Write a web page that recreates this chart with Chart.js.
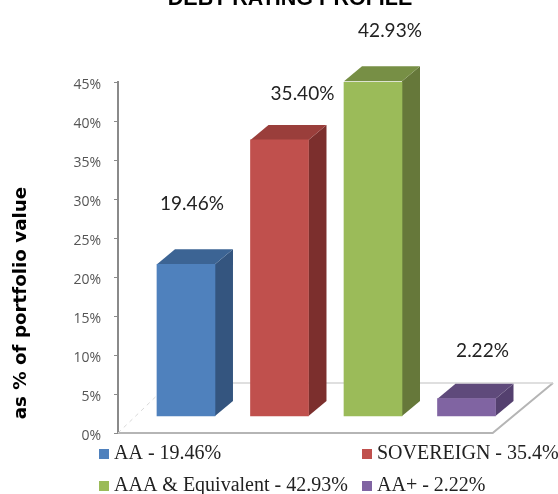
<!DOCTYPE html>
<html><head><meta charset="utf-8">
<script src="https://cdn.jsdelivr.net/npm/chart.js@4"></script>
<style>html,body{margin:0;padding:0;background:#fff;overflow:hidden}
#w{position:relative;width:558px;height:494px}canvas{display:block;filter:blur(.45px)}</style>
</head><body><div id="w"><canvas id="c" width="558" height="494"></canvas></div>
<script>
const titleText = "DEBT RATING PROFILE";
const axisTitle = "as % of portfolio value";
const categories = ["AA", "SOVEREIGN", "AAA & Equivalent", "AA+"];
const values = [19.46, 35.40, 42.93, 2.22];
const valueLabels = ["19.46%", "35.40%", "42.93%", "2.22%"];
const legendLabels = ["AA - 19.46%", "SOVEREIGN - 35.4%", "AAA & Equivalent - 42.93%", "AA+ - 2.22%"];
const yTicks = [0, 5, 10, 15, 20, 25, 30, 35, 40, 45];

// styling and layout only
const floorLift = 2.18;           // the 3D box stands on a floor drawn above the axis origin
const front = ["#4F81BD", "#C0504D", "#9BBB59", "#8064A2"];
const side  = ["#34557F", "#7C2F2D", "#66783A", "#54406F"];
const top3d = ["#3C6494", "#9A3E3B", "#778F45", "#5F4A7B"];
const depth = {dx: 18, dy: -15};
const labelOffsets = [[6, -60], [23, -46], [17, -50], [16, -48]];
const legendPos = [[99, 454], [362, 454], [99, 486], [362, 486]];

const scene = {
  id: "scene",
  beforeDatasetsDraw(ch) {
    const g = ch.ctx, xs = ch.scales.x, ys = ch.scales.y;
    const y0 = ys.getPixelForValue(0), left = ch.chartArea.left;
    const fr = xs.getPixelForValue(3.28), bx = ch.chartArea.right, by = ys.getPixelForValue(6.41);
    g.save();
    g.strokeStyle = "#B5B5B5"; g.lineWidth = 2;
    g.beginPath(); g.moveTo(left, y0); g.lineTo(fr, y0); g.lineTo(bx, by); g.stroke();
    g.strokeStyle = "#D4D4D4"; g.lineWidth = 1.5;
    g.beginPath(); g.moveTo(bx, by); g.lineTo(left + 52, by); g.stroke();
    g.setLineDash([4, 4]); g.strokeStyle = "#D8D8D8"; g.lineWidth = 1;
    g.beginPath(); g.moveTo(left, y0); g.lineTo(left + 52, by); g.stroke();
    g.setLineDash([]);
    ch.getDatasetMeta(0).data.forEach((b, i) => {
      const l = b.x - b.width / 2, r = b.x + b.width / 2;
      g.fillStyle = side[i];
      g.beginPath(); g.moveTo(r, b.y); g.lineTo(r + depth.dx, b.y + depth.dy);
      g.lineTo(r + depth.dx, b.base + depth.dy); g.lineTo(r, b.base); g.closePath(); g.fill();
      g.fillStyle = top3d[i];
      g.beginPath(); g.moveTo(l, b.y); g.lineTo(l + depth.dx, b.y + depth.dy);
      g.lineTo(r + depth.dx, b.y + depth.dy); g.lineTo(r, b.y); g.closePath(); g.fill();
    });
    g.restore();
  },
  afterDatasetsDraw(ch) {
    const g = ch.ctx;
    g.save();
    g.textBaseline = "middle"; g.textAlign = "center";
    g.fillStyle = "#222"; g.font = '19px "Lato"';
    ch.getDatasetMeta(0).data.forEach((b, i) => {
      g.fillText(valueLabels[i], b.x + labelOffsets[i][0], b.y + labelOffsets[i][1]);
    });
    g.fillStyle = "#000"; g.font = 'bold 21.5px "Liberation Sans"'; g.textBaseline = "alphabetic";
    g.fillText(titleText, 290, 5);
    g.save();
    g.translate(26, 303); g.rotate(-Math.PI / 2);
    g.font = 'bold 18.3px "DejaVu Sans"';
    g.fillText(axisTitle, 0, 0);
    g.restore();
    g.textAlign = "left"; g.textBaseline = "middle"; g.font = '20px "Liberation Serif"';
    legendLabels.forEach((t, i) => {
      const [x, y] = legendPos[i];
      g.fillStyle = front[i]; g.fillRect(x, y - 5, 10, 10);
      g.fillStyle = "#222"; g.fillText(t, x + 15, y);
    });
    g.restore();
  }
};

new Chart(document.getElementById("c"), {
  type: "bar",
  data: {
    datasets: [{
      label: "Rating profile",
      data: values.map((v, i) => ({x: i, y: [floorLift, floorLift + v]})),
      backgroundColor: front,
      borderWidth: 0,
      barThickness: 58
    }]
  },
  plugins: [scene],
  options: {
    responsive: false, animation: false,
    layout: {padding: {top: 82, right: 5, bottom: 61, left: 0}},
    plugins: {legend: {display: false}, title: {display: false}, tooltip: {enabled: false}},
    scales: {
      x: {type: "linear", min: -0.727, max: 3.925, display: false, offset: false},
      y: {
        min: 0, max: 45,
        afterFit(s) { s.width = 118; },
        afterBuildTicks(s) { s.ticks = yTicks.map(v => ({value: v})); },
        ticks: {callback: v => ["", v + "%"], color: "#555", font: {family: "Open Sans", size: 14, lineHeight: "6px"}, padding: 13},
        grid: {drawOnChartArea: false, drawTicks: true, tickLength: 4, color: "#8A8A8A"},
        border: {color: "#8A8A8A", width: 2}
      }
    }
  }
});
</script></body></html>
